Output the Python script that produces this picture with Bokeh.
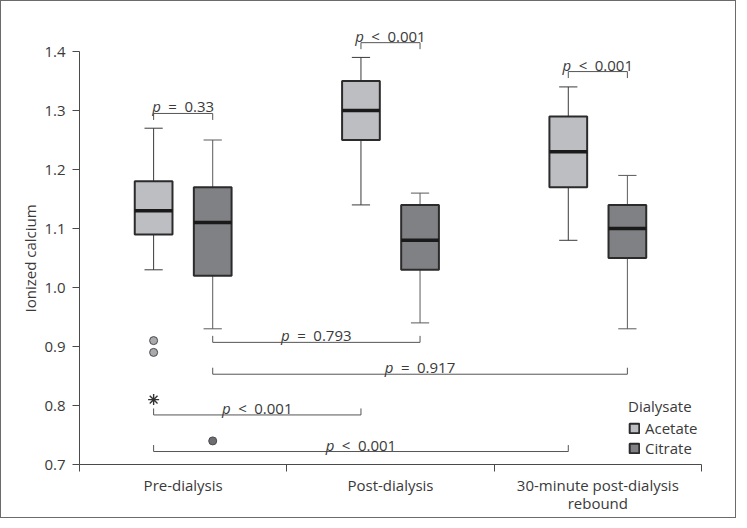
import math
from bokeh.plotting import figure
from bokeh.models import (ColumnDataSource, FixedTicker, Legend, LegendItem, Title,
                          Range1d, PrintfTickFormatter)
from bokeh.core.properties import value
from bokeh.embed import file_html
from bokeh.resources import INLINE

# ---------------- data ----------------
categories = ["Pre-dialysis", "Post-dialysis", "30-minute post-dialysis\nrebound"]
series_names = ["Acetate", "Citrate"]

acetate_lower = [1.03, 1.14, 1.08]
acetate_q1 = [1.09, 1.25, 1.17]
acetate_median = [1.13, 1.30, 1.23]
acetate_q3 = [1.18, 1.35, 1.29]
acetate_upper = [1.27, 1.39, 1.34]

citrate_lower = [0.93, 0.94, 0.93]
citrate_q1 = [1.02, 1.03, 1.05]
citrate_median = [1.11, 1.08, 1.10]
citrate_q3 = [1.17, 1.14, 1.14]
citrate_upper = [1.25, 1.16, 1.19]

acetate_outlier_cat = [0, 0]
acetate_outlier_val = [0.91, 0.89]
acetate_extreme_cat = [0]
acetate_extreme_val = [0.81]
citrate_outlier_cat = [0]
citrate_outlier_val = [0.74]

y_ticks = [0.7, 0.8, 0.9, 1.0, 1.1, 1.2, 1.3, 1.4]
y_title = "Ionized calcium"

# comparisons: (category, series) pairs and p-value texts
comp_a_cat = [0, 1, 2, 0, 0, 0, 0]
comp_a_ser = ["Acetate", "Acetate", "Acetate", "Citrate", "Citrate", "Acetate", "Acetate"]
comp_b_cat = [0, 1, 2, 1, 2, 1, 2]
comp_b_ser = ["Citrate", "Citrate", "Citrate", "Citrate", "Citrate", "Acetate", "Acetate"]
comp_op = ["=", "<", "<", "=", "=", "<", "<"]
comp_p = ["0.33", "0.001", "0.001", "0.793", "0.917", "0.001", "0.001"]

# bracket placement (layout, not data)
bracket_level = [1.295, 1.415, 1.366, 0.907, 0.853, 0.784, 0.722]
bracket_dir = [-1, -1, -1, 1, 1, 1, 1]   # leg direction
LEG = 0.011

# ---------------- styles ----------------
FONT = "Open Sans"
FS = "15px"
TXT = "#3a3a3a"
AX = "#4a4a4a"
ACETATE_FILL = "#bdbec2"
CITRATE_FILL = "#808185"
BOX_LINE = "#2b2b2b"
OFFSET = {"Acetate": -0.1425, "Citrate": 0.1425}
BOX_W = 0.182
CAP_W = 0.088

W, H = 736, 518


def xpos(cat, ser):
    return cat + 0.5 + OFFSET[ser]


p = figure(width=W, height=H, x_range=Range1d(0, 3), y_range=Range1d(0.7, 1.4729),
           output_backend="svg", toolbar_location=None,
           min_border_left=78, min_border_right=36, min_border_top=7, min_border_bottom=55)
p.styles = {"border": "1px solid #6b6b6b"}
p.xgrid.visible = False
p.ygrid.visible = False
p.outline_line_color = None
p.background_fill_color = "white"
p.border_fill_color = "white"

# y axis
yax = p.yaxis[0]
yax.ticker = FixedTicker(ticks=y_ticks)
yax.formatter = PrintfTickFormatter(format="%.1f")
yax.bounds = (0.7, 1.4)
yax.major_tick_out = 7
yax.major_tick_in = 0
yax.minor_tick_out = 0
yax.minor_tick_in = 0
yax.major_label_standoff = 7
yax.axis_line_color = AX
yax.major_tick_line_color = AX
yax.major_label_text_font = FONT
yax.major_label_text_font_size = FS
yax.major_label_text_color = TXT

# y axis title as a side-panel title (so it is not clipped by the frame)
p.add_layout(Title(text=y_title, align="left", offset=152, standoff=4,
                   text_font=FONT, text_font_size=FS, text_font_style="normal",
                   text_color=TXT), "left")

# x axis
xax = p.xaxis[0]
xax.ticker = FixedTicker(ticks=[0.5, 1.5, 2.5], minor_ticks=[0, 1, 2, 3])
xax.major_label_overrides = {0.5: categories[0], 1.5: categories[1], 2.5: categories[2]}
xax.bounds = (-0.03, 3)
xax.major_tick_out = 0
xax.major_tick_in = 0
xax.minor_tick_out = 7
xax.minor_tick_in = 0
xax.major_label_standoff = 3
xax.major_label_text_line_height = 0.92
xax.axis_line_color = AX
xax.minor_tick_line_color = AX
xax.major_label_text_font = FONT
xax.major_label_text_font_size = FS
xax.major_label_text_color = TXT

# ---------------- boxes ----------------
renderers = {}
for ser, lo, q1, med, q3, up, fill, wcol in [
        ("Acetate", acetate_lower, acetate_q1, acetate_median, acetate_q3, acetate_upper, ACETATE_FILL, "#3a3a3a"),
        ("Citrate", citrate_lower, citrate_q1, citrate_median, citrate_q3, citrate_upper, CITRATE_FILL, "#5a5a5a")]:
    xs = [xpos(i, ser) for i in range(len(categories))]
    src = ColumnDataSource(dict(x=xs, lo=lo, q1=q1, med=med, q3=q3, up=up,
                                xl=[x - BOX_W / 2 for x in xs], xr=[x + BOX_W / 2 for x in xs],
                                cl=[x - CAP_W / 2 for x in xs], cr=[x + CAP_W / 2 for x in xs]))
    p.segment(x0="x", y0="q3", x1="x", y1="up", source=src, line_color=wcol, line_width=1)
    p.segment(x0="x", y0="q1", x1="x", y1="lo", source=src, line_color=wcol, line_width=1)
    p.segment(x0="cl", y0="up", x1="cr", y1="up", source=src, line_color=wcol, line_width=1)
    p.segment(x0="cl", y0="lo", x1="cr", y1="lo", source=src, line_color=wcol, line_width=1)
    r = p.vbar(x="x", width=BOX_W, top="q3", bottom="q1", source=src,
               fill_color=fill, line_color=BOX_LINE, line_width=2)
    p.segment(x0="xl", y0="med", x1="xr", y1="med", source=src, line_color="#1a1a1a", line_width=3.5)
    renderers[ser] = r

# outliers
p.scatter(x=[xpos(c, "Acetate") for c in acetate_outlier_cat], y=acetate_outlier_val,
          size=8, fill_color="#a9aaae", line_color="#4a4a4a", line_width=1)
p.scatter(x=[xpos(c, "Citrate") for c in citrate_outlier_cat], y=citrate_outlier_val,
          size=8, fill_color="#6d6e71", line_color="#4a4a4a", line_width=1)
p.scatter(x=[xpos(c, "Acetate") for c in acetate_extreme_cat], y=acetate_extreme_val,
          marker="asterisk", size=11, line_color="#333333", line_width=1.4)

# ---------------- brackets ----------------
CHAR_W = {".": 4.0, "\u2002": 7.5}
DIGIT_W = 8.58
P_W = 8.6

bx, by, tx, ty, rest, offs = [], [], [], [], [], []
for i in range(len(comp_p)):
    xa = xpos(comp_a_cat[i], comp_a_ser[i])
    xb = xpos(comp_b_cat[i], comp_b_ser[i])
    lvl = bracket_level[i]
    tip = lvl + bracket_dir[i] * LEG
    bx.append([xa, xa, xb, xb])
    by.append([tip, lvl, lvl, tip])
    s = "\u2002" + comp_op[i] + "\u2002" + comp_p[i]
    w = P_W + sum(CHAR_W.get(ch, DIGIT_W) for ch in s)
    tx.append((xa + xb) / 2)
    ty.append(lvl)
    rest.append(s)
    offs.append(-w / 2 + P_W)

p.multi_line(xs=bx, ys=by, line_color="#555555", line_width=1)
tsrc = ColumnDataSource(dict(x=tx, y=ty, rest=rest, off=offs))
p.text(x="x", y="y", text=value("p"), source=tsrc, x_offset="off", y_offset=-7,
       text_align="right", text_baseline="alphabetic", text_font=value(FONT),
       text_font_style="italic", text_font_size=FS, text_color=TXT)
p.text(x="x", y="y", text="rest", source=tsrc, x_offset="off", y_offset=-7,
       text_align="left", text_baseline="alphabetic", text_font=value(FONT),
       text_font_size=FS, text_color=TXT)

# legend
legend = Legend(items=[LegendItem(label="Acetate", renderers=[renderers["Acetate"]]),
                       LegendItem(label="Citrate", renderers=[renderers["Citrate"]])],
                title="Dialysate", location=(549, 6), orientation="vertical",
                padding=0, margin=0, spacing=0, glyph_width=12, glyph_height=12,
                label_height=12, label_standoff=5, title_standoff=2,
                label_text_line_height=1.0,
                border_line_color=None, background_fill_alpha=0,
                label_text_font=FONT, label_text_font_size=FS, label_text_color=TXT,
                title_text_font=FONT, title_text_font_size=FS, title_text_color=TXT,
                title_text_font_style="normal")
p.add_layout(legend)

open("out.html", "w").write(file_html(p, INLINE))
